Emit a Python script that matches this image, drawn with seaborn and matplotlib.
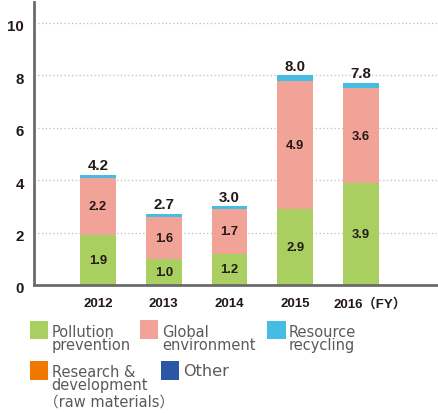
import matplotlib
matplotlib.use("Agg")
import matplotlib.pyplot as plt
import matplotlib.transforms as mtransforms
from matplotlib.patches import Rectangle
import seaborn as sns
import numpy as np

# ---- data ----
years = ["2012", "2013", "2014", "2015", "2016"]
tick_labels = ["2012", "2013", "2014", "2015", "2016（FY）"]
pollution = [1.9, 1.0, 1.2, 2.9, 3.9]
global_env = [2.2, 1.6, 1.7, 4.9, 3.6]
recycling = [0.1, 0.1, 0.1, 0.2, 0.2]
research = [0.0, 0.0, 0.0, 0.0, 0.0]
other = [0.0, 0.0, 0.0, 0.0, 0.0]
totals = [4.2, 2.7, 3.0, 8.0, 7.8]
series_names = ["Pollution\nprevention", "Global\nenvironment", "Resource\nrecycling",
                "Research &\ndevelopment\n（raw materials）", "Other"]
colors = ["#a9cf60", "#f2a397", "#45bde3", "#ee7800", "#2a56a5"]
yticks = [0, 2, 4, 6, 8, 10]

sns.set_theme(style="white")
plt.rcParams["font.family"] = ["Liberation Sans", "Noto Sans CJK JP"]

W, H = 438, 414
fig = plt.figure(figsize=(W / 100, H / 100), dpi=100)
ax = fig.add_axes([33.5 / W, 1 - 286 / H, (W - 33.5) / W, 283 / H])

series = [pollution, global_env, recycling, research, other]
bottom = np.zeros(len(years))
for vals, c in zip(series, colors):
    sns.barplot(x=years, y=vals, bottom=bottom.copy(), color=c, width=0.5475,
                errorbar=None, linewidth=0, saturation=1, ax=ax)
    bottom += np.array(vals)

txt_dark = "#231815"
# segment labels
base = np.zeros(len(years))
for vals in [pollution, global_env]:
    for i, v in enumerate(vals):
        ax.text(i, base[i] + v / 2, f"{v:.1f}", ha="center", va="center",
                fontsize=9.4, fontweight="bold", color=txt_dark)
    base += np.array(vals)

# totals
for i, t in enumerate(totals):
    ax.annotate(f"{t:.1f}", xy=(i, bottom[i]), xytext=(0, 4.2), textcoords="offset points",
                ha="center", va="baseline", fontsize=10.8, fontweight="bold", color=txt_dark)

ax.set_xlim((33.5 - 98) / 65.75, (438 - 98) / 65.75)
ax.set_ylim(0, 10.8)
ax.set_yticks(yticks)
ax.set_yticklabels([str(v) for v in yticks], fontweight="bold", fontsize=10.8, color=txt_dark)
ax.set_xticks(range(len(years)))
ax.set_xticklabels(tick_labels, fontweight="bold", fontsize=9.5, color=txt_dark)
ax.tick_params(axis="y", length=0, pad=6.8)
ax.tick_params(axis="x", length=0, pad=9)
ax.set_xlabel("")
ax.set_ylabel("")

lab = ax.get_xticklabels()[-1]
lab.set_transform(lab.get_transform() + mtransforms.ScaledTranslation(9 / 100, 0, fig.dpi_scale_trans))
for yl in ax.get_yticklabels():
    yl.set_transform(yl.get_transform() + mtransforms.ScaledTranslation(0, -2 / 100, fig.dpi_scale_trans))

ax.set_axisbelow(True)
ax.yaxis.grid(True, linestyle=(0, (1, 2)), color="#bdbdbd", linewidth=0.9)
ax.xaxis.grid(False)
for s in ["top", "right"]:
    ax.spines[s].set_visible(False)
for s in ["left", "bottom"]:
    ax.spines[s].set_color("#6b6b6b")
    ax.spines[s].set_linewidth(2.0)

# legend (manual layout to match reference)
# (patch x, patch y-top, text x, text top, fontsize, extra CJK line x, extra line baseline)
leg_layout = [
    (30, 321.7, 52, 325.0, 10.5, None, None),
    (140, 321.2, 162.3, 325.0, 10.5, None, None),
    (267.3, 321.7, 289, 325.0, 10.5, None, None),
    (30, 362.3, 51.7, 365.5, 10.5, 43.5, 406.7),
    (161, 362.3, 183, 364.5, 11.6, None, None),
]
psz = 18.3
leg_font = dict(color="#5a5a5a", family=["DejaVu Sans", "Noto Sans CJK JP"])
for name, c, (px, py, tx, tt, fs, ex, eb) in zip(series_names, colors, leg_layout):
    fig.add_artist(Rectangle((px / W, 1 - (py + psz) / H), psz / W, psz / H,
                             transform=fig.transFigure, facecolor=c, edgecolor="none"))
    lines = name.split("\n")
    main = lines if ex is None else lines[:-1]
    fig.text(tx / W, 1 - tt / H, "\n".join(main), ha="left", va="top", fontsize=fs,
             linespacing=0.82, **leg_font)
    if ex is not None:
        fig.text(ex / W, 1 - eb / H, lines[-1], ha="left", va="baseline", fontsize=fs, **leg_font)

fig.savefig("out.png", dpi=100)
